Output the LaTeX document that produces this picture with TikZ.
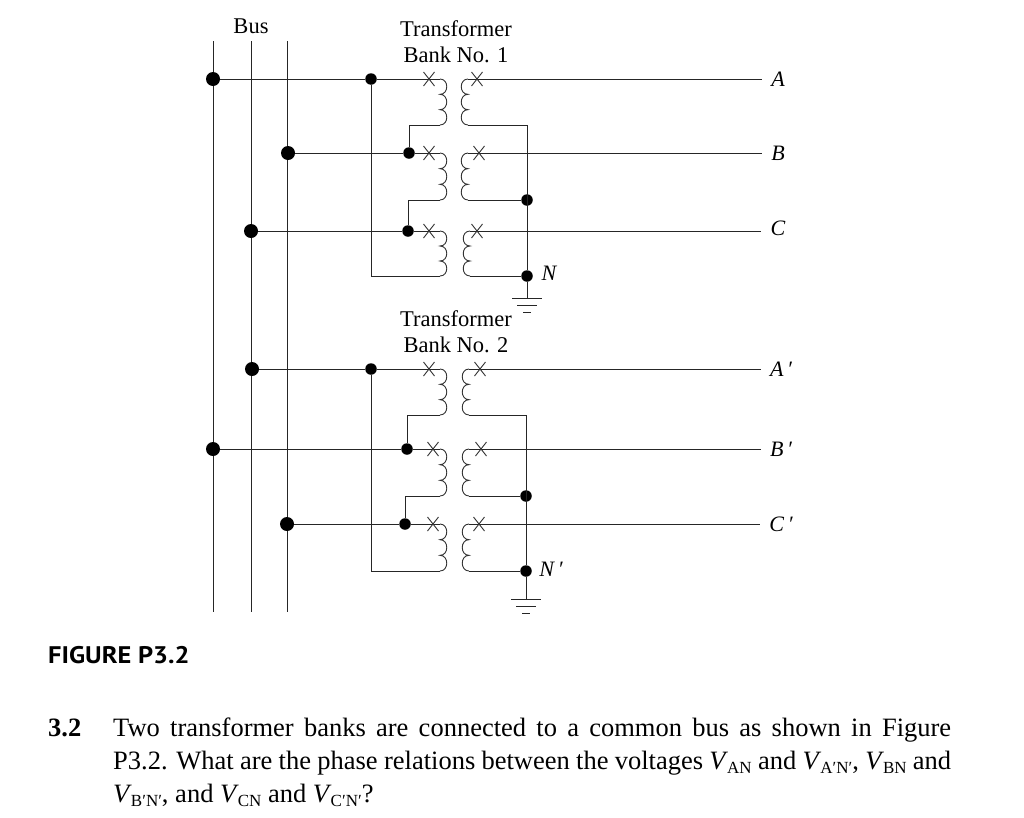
\documentclass[tikz,border=0pt]{standalone}
\usepackage{fontspec}
\setmainfont{Liberation Serif}
\newfontfamily\capfont{PT Sans}
\newcommand{\Vs}[1]{\textit{V}\kern-1pt\raisebox{-4pt}{\fontsize{17}{20}\selectfont #1}}
\begin{document}
\begin{tikzpicture}[x=1pt,y=-1pt,
  wire/.style={line width=1pt,black!85},
  thin wire/.style={line width=0.9pt,black!80},
  junction/.style={circle,fill=black,inner sep=0pt,minimum size=#1},
  junction/.default=11.5pt,
  busdot/.style={junction=14pt},
  lab/.style={font=\fontsize{22.5}{26}\selectfont,align=center,inner sep=0pt},
  phase/.style={font=\fontsize{22}{24}\selectfont\itshape,inner ysep=0pt,inner xsep=9pt},
  nlabel/.style={font=\fontsize{22}{24}\selectfont\itshape,inner sep=0pt},
  body/.style={font=\fontsize{26.5}{30}\selectfont,anchor=base west,inner sep=0pt},
]
\useasboundingbox (0,0) rectangle (1024,817);
\fill[white] (0,0) rectangle (1024,817);
% bus bars
\foreach \n/\x in {a/213,b/251,c/287}{
  \coordinate (bus\n top) at (\x,41);
  \coordinate (bus\n bot) at (\x,612);
  \draw[wire] (bus\n top) -- (bus\n bot);
}
\node[lab] (bus) at (251,26) {Bus};
\node[lab] (t1) at (456,42) {Transformer\\Bank No. 1};
\node[lab] (t2) at (456,332) {Transformer\\Bank No. 2};
% coils: name / top / bottom / primary lead x / secondary lead x
\foreach \n/\t/\b/\px/\sx in {a/79/125/440/468,b/153/200/440/468,c/231/276/440/470,
                              d/369/415/440/469,e/449/496/440/469,f/524/571/440/469}{
  \coordinate (p\n t) at (\px,\t);
  \coordinate (p\n b) at (\px,\b);
  \coordinate (s\n t) at (\sx,\t);
  \coordinate (s\n b) at (\sx,\b);
  \pgfmathsetmacro\h{(\b-\t)/3}
  \draw[thin wire] (p\n t) .. controls +(9,0) and +(9,0) .. ++(0,\h)
     .. controls +(9,0) and +(9,0) .. ++(0,\h)
     .. controls +(9,0) and +(9,0) .. (p\n b);
  \draw[thin wire] (s\n t) .. controls +(-9,0) and +(-9,0) .. ++(0,\h)
     .. controls +(-9,0) and +(-9,0) .. ++(0,\h)
     .. controls +(-9,0) and +(-9,0) .. (s\n b);
}
% junctions
\node[busdot] (d1) at (213,79) {};
\node[busdot] (d2) at (288,153) {};
\node[busdot] (d3) at (251,231) {};
\node[busdot] (d4) at (252,369) {};
\node[busdot] (d5) at (213,449) {};
\node[busdot] (d6) at (287,524) {};
\node[junction] (ja) at (371,79) {};
\node[junction] (jb) at (409,153) {};
\node[junction] (jc) at (408,231) {};
\node[junction] (jd) at (371,369) {};
\node[junction] (je) at (407,449) {};
\node[junction] (jf) at (405,524) {};
\node[junction] (m1) at (527,200) {};
\node[junction] (n1) at (527,276) {};
\node[junction] (m2) at (526,496) {};
\node[junction] (n2) at (526,571) {};
% terminal labels
\node[phase] (A) at (778,79) {A};
\node[phase] (B) at (778,153) {B};
\node[phase] (C) at (778,228) {C};
\node[phase] (Ap) at (781,369) {A\,′};
\node[phase] (Bp) at (781,449) {B\,′};
\node[phase] (Cp) at (781,524) {C\,′};
\node[nlabel] (N) at (549,273) {N};
\node[nlabel] (Np) at (551,569) {N\,′};
% primary side
\draw[wire] (d1) -- (ja) -- (pat);
\draw[wire] (d2) -- (jb) -- (pbt);
\draw[wire] (d3) -- (jc) -- (pct);
\draw[wire] (d4) -- (jd) -- (pdt);
\draw[wire] (d5) -- (je) -- (pet);
\draw[wire] (d6) -- (jf) -- (pft);
\draw[wire] (ja) |- (pcb);
\draw[wire] (jd) |- (pfb);
\draw[wire] (jb) |- (pab);
\draw[wire] (jc) |- (pbb);
\draw[wire] (je) |- (pdb);
\draw[wire] (jf) |- (peb);
% secondary side
\draw[wire] (sat) -- (A.west);
\draw[wire] (sbt) -- (B.west);
\draw[wire] (sct) -- (C.west |- sct);
\draw[wire] (sdt) -- (Ap.west);
\draw[wire] (set) -- (Bp.west);
\draw[wire] (sft) -- (Cp.west);
\draw[wire] (sab) -| (n1);
\draw[wire] (sbb) -- (m1);
\draw[wire] (scb) -- (n1);
\draw[wire] (sdb) -| (n2);
\draw[wire] (seb) -- (m2);
\draw[wire] (sfb) -- (n2);
% polarity marks
\foreach \x/\y in {429/79,477/79,429/153,479/153,429/231,477/231,429/369,480/369,433/449,481/449,433/524,479/524}{
  \draw[thin wire] (\x-5.5,\y-7) -- (\x+5.5,\y+7) (\x+5.5,\y-7) -- (\x-5.5,\y+7);
}
% grounds
\coordinate (g1) at (527,298);
\coordinate (g2) at (526,599);
\draw[wire] (n1) -- (g1);
\draw[wire] (n2) -- (g2);
\foreach \g in {g1,g2}{
  \draw[wire] ([xshift=-15pt]\g) -- ([xshift=15pt]\g);
  \draw[wire] ([xshift=-10pt,yshift=-7pt]\g) -- ([xshift=10pt,yshift=-7pt]\g);
  \draw[wire] ([xshift=-4pt,yshift=-14pt]\g) -- ([xshift=4pt,yshift=-14pt]\g);
}
% text
\node[anchor=base west,inner sep=0pt,font=\fontsize{24}{28}\selectfont\capfont\bfseries,xscale=1.1] (fig) at (48,663) {FIGURE P3.2};
\node[body,font=\fontsize{26.5}{30}\selectfont\bfseries] (n32) at (48,736) {3.2};
\node[body] (l1) at (113,736) {\hbox to 838pt{Two transformer banks are connected to a common bus as shown in Figure}};
\node[body] (l2) at (113,769) {\hbox to 838pt{P3.2. What are the phase relations between the voltages \Vs{AN} and \Vs{A′N′}, \Vs{BN} and}};
\node[body] (l3) at (113,802) {\Vs{B′N′}, and \Vs{CN} and \Vs{C′N′}?};
\end{tikzpicture}
\end{document}
